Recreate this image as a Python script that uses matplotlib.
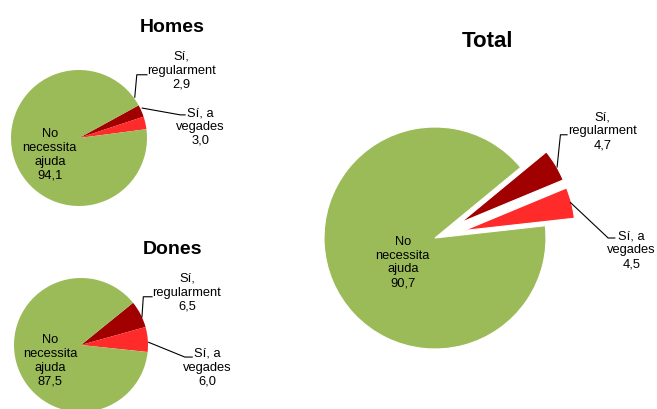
import matplotlib
matplotlib.use('Agg')
import matplotlib.pyplot as plt

plt.rcParams['font.family'] = ['Liberation Sans', 'DejaVu Sans']

categories = ['Sí,\nregularment', 'Sí, a\nvegades', 'No\nnecessita\najuda']
homes = [2.9, 3.0, 94.1]
dones = [6.5, 6.0, 87.5]
total = [4.7, 4.5, 90.7]
colors = ['#A00000', '#FF2A2A', '#9BBB59']

W, H = 657, 409
fig = plt.figure(figsize=(W / 100, H / 100), dpi=100)


def fmt(v):
    return ('%.1f' % v).replace('.', ',')


def pie_axes(cx, cy, r):
    # square axes placed in pixel units, data range -1..1
    ax = fig.add_axes([(cx - r) / W, (H - cy - r) / H, 2 * r / W, 2 * r / H])
    ax.axis('off')
    return ax


def draw_pie(ax, values, title, start, title_pos, title_size, label_pos, leaders, explode=None):
    wedges, _ = ax.pie(values, colors=colors, startangle=start, counterclock=False,
                       explode=explode, radius=1,
                       wedgeprops=dict(linewidth=0.8 if explode else 0, edgecolor='white'))
    # pie() resets limits, so set them afterwards
    ax.set_xlim(-1, 1)
    ax.set_ylim(-1, 1)
    ax.set_aspect('equal')
    for w in wedges:
        w.set_clip_on(False)
    for cat, v, (x, y) in zip(categories, values, label_pos):
        ax.text(x, y, cat + '\n' + fmt(v), ha='center', va='center', fontsize=9.3,
                linespacing=1.2, clip_on=False)
    for xs, ys in leaders:
        ax.plot(xs, ys, color='black', lw=0.8, clip_on=False)
    ax.text(title_pos[0], title_pos[1], title, ha='center', va='center',
            fontsize=title_size, fontweight='bold', clip_on=False)


ax1 = pie_axes(79, 138, 68)
draw_pie(ax1, homes, 'Homes', 28.7, (1.37, 1.62), 14,
         [(1.51, 0.99), (1.79, 0.16), (-0.43, -0.25)],
         [([0.82, 0.85, 1.0], [0.60, 0.93, 0.93]),
          ([0.93, 1.49, 1.56], [0.44, 0.34, 0.34])])

ax2 = pie_axes(81, 345, 67)
draw_pie(ax2, dones, 'Dones', 39.0, (1.37, 1.43), 14,
         [(1.58, 0.78), (1.88, -0.34), (-0.46, -0.24)],
         [([0.91, 0.93, 1.06], [0.42, 0.72, 0.72]),
          ([1.01, 1.55, 1.66], [0.04, -0.18, -0.18])])

ax3 = pie_axes(435, 238, 111)
draw_pie(ax3, total, 'Total', 39.5, (0.47, 1.77), 16,
         [(1.51, 0.96), (1.77, -0.11), (-0.29, -0.22)],
         [([1.10, 1.13, 1.19], [0.64, 0.93, 0.93]),
          ([1.22, 1.56, 1.62], [0.32, 0.0, 0.0])],
         explode=[0.27, 0.27, 0])

fig.savefig('out.png', dpi=100)
